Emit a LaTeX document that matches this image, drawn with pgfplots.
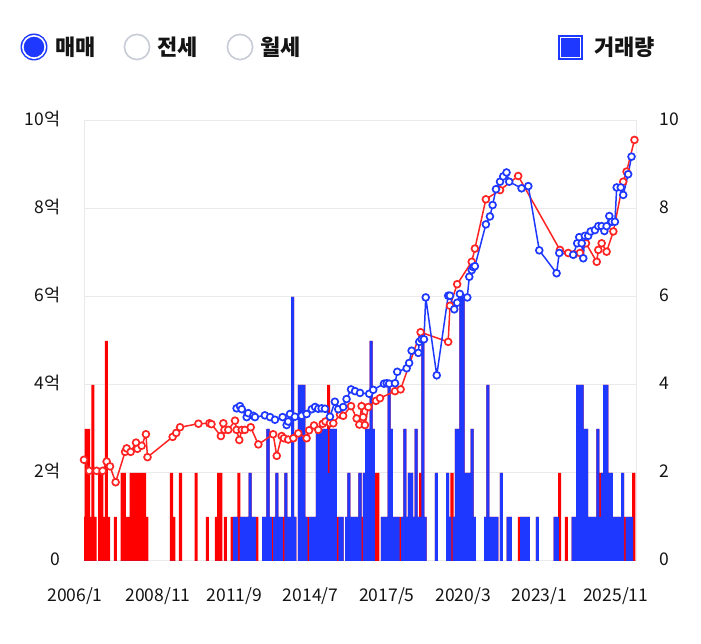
\documentclass[border=0pt]{standalone}
\usepackage{fontspec}
\usepackage{pgfplots}
\usepackage{pgfplotstable}
\pgfplotsset{compat=1.18}
\setmainfont{Noto Sans CJK KR}
\definecolor{bblue}{RGB}{30,56,255}
\definecolor{rred}{RGB}{255,0,0}
\definecolor{lred}{RGB}{255,36,36}
\definecolor{gridc}{RGB}{234,234,234}
\definecolor{radio}{RGB}{200,204,214}
\definecolor{txt}{RGB}{20,20,20}

% month index k (1 = first month shown), blue volume b, red volume r
\pgfplotstableread{
k b r
1 0 1
2 0 3
3 0 3
4 0 1
5 0 4
6 0 1
8 0 2
9 0 2
10 0 1
11 0 5
12 0 1
15 0 1
18 0 2
19 0 2
20 0 1
21 0 1
22 0 2
23 0 2
24 0 2
25 0 2
26 0 2
27 0 2
28 0 2
29 0 1
40 0 2
41 0 1
44 0 2
51 0 2
56 0 1
60 0 1
61 0 2
62 0 2
64 0 1
67 0 1
68 1 0
69 1 0
70 0 2
71 1 0
72 1 0
73 1 0
74 1 0
75 2 0
76 1 0
77 1 0
78 0 1
81 1 0
82 1 0
83 3 0
84 1 0
85 0 1
86 1 0
87 2 0
88 1 0
89 1 0
90 0 1
91 2 0
92 1 0
93 1 0
94 6 0
95 1 0
97 4 0
98 4 0
99 4 0
100 1 0
101 0 1
102 1 0
103 1 0
104 1 0
105 3 0
106 3 0
107 3 0
108 3 0
109 3 0
110 2 2
111 3 0
112 3 0
113 3 0
114 0 1
115 1 0
116 1 0
118 1 0
119 2 0
120 1 0
121 1 0
122 1 0
123 1 0
124 2 0
125 0 1
126 2 0
127 3 0
128 3 0
129 5 0
130 3 0
131 0 2
132 0 2
134 1 0
135 1 0
136 1 0
137 4 0
138 3 0
139 1 0
140 1 0
141 1 0
142 0 1
143 1 0
144 3 0
145 1 0
146 2 0
147 2 0
148 1 0
149 3 0
150 1 0
151 1 1
152 5 0
153 1 0
158 2 0
163 2 0
164 1 0
165 0 2
166 1 0
167 3 0
168 3 0
169 6 0
170 6 0
171 2 0
172 2 0
173 2 0
174 3 0
175 1 0
180 1 0
181 4 0
182 1 0
183 1 0
184 1 0
185 1 0
187 2 0
190 1 0
191 1 0
195 0 1
196 1 0
197 1 0
198 1 0
199 1 0
203 1 0
211 1 0
212 1 0
213 0 2
216 0 1
219 1 0
220 1 0
221 4 0
222 4 0
223 4 0
224 3 0
225 3 0
226 1 0
227 1 0
228 1 0
229 1 0
230 3 0
231 1 1
232 2 0
233 4 0
234 4 0
235 2 0
236 2 0
237 1 0
238 1 0
239 1 0
240 1 0
241 2 0
242 0 1
243 1 0
244 1 0
245 1 0
246 0 2
}\vol

\begin{document}
\begin{tikzpicture}[x=1pt,y=1pt]
\useasboundingbox (0,0) rectangle (701,644);

\begin{axis}[
  at={(84pt,83pt)}, anchor=south west,
  scale only axis, width=552pt, height=440pt,
  xmin=1, xmax=247, ymin=0, ymax=10,
  axis line style={draw=gridc, line width=1pt},
  ymajorgrids, grid style={draw=gridc, line width=1pt},
  major tick length=0pt,
  ytick={0,2,4,6,8,10},
  yticklabels={0,2억,4억,6억,8억,10억},
  xtick={1,34,68,102,136,170,204,238},
  xticklabels={{2006/1\hspace*{18pt}},2008/11,2011/9,2014/7,2017/5,2020/3,2023/1,2025/11},
  every tick label/.append style={font=\fontsize{17.5}{20}\selectfont, text=txt},
  yticklabel style={anchor=east, xshift=-20pt, yshift=2pt},
  xticklabel style={anchor=north, yshift=-23pt},
]
\addplot[ybar, bar width=1.35, bar shift=0pt, fill=rred, draw=none]
  table[x=k, y expr=\thisrow{b}+\thisrow{r}] {\vol};
\addplot[ybar, bar width=1.35, bar shift=0pt, fill=bblue, draw=none]
  table[x=k, y=b] {\vol};

\addplot[color=lred, line width=1.5pt, mark=*, mark size=3.4pt,
  mark options={fill=white, line width=1.7pt, solid}] coordinates {
(1.0,2.30)(3.3,2.05)(6.6,2.05)(9.3,2.05)(11.1,2.26)(12.6,2.15)(15.1,1.79)(19.3,2.48)(20.0,2.56)(21.8,2.48)(24.2,2.69)(24.8,2.55)(26.7,2.62)(28.6,2.88)(29.3,2.36)(40.5,2.82)(42.1,2.91)(43.8,3.04)(52.0,3.12)(56.9,3.13)(57.8,3.11)(62.0,2.84)(63.1,3.13)(63.6,2.98)(65.3,2.98)(68.3,3.19)(69.0,2.98)(70.2,2.75)(71.3,2.98)(72.7,2.98)(75.3,3.04)(78.7,2.65)(85.3,2.88)(86.9,2.39)(89.1,2.84)(90.1,2.79)(92.0,2.76)(94.3,2.79)(96.5,2.90)(100.2,2.79)(101.3,2.97)(103.5,3.08)(105.4,2.98)(107.4,3.12)(108.6,3.17)(110.6,3.13)(112.1,3.13)(115.1,3.33)(116.5,3.30)(120.0,3.52)(122.5,3.24)(123.7,3.10)(124.7,3.52)(125.4,3.27)(126.2,3.09)(127.7,3.50)(131.1,3.64)(132.9,3.70)(139.6,3.86)(142.1,3.90)(151.0,5.20)(163.3,4.98)(164.1,5.80)(167.3,6.29)(173.8,6.80)(175.2,7.10)(180.1,8.22)(186.4,8.43)(194.5,8.75)(213.1,7.07)(216.8,7.00)(219.3,6.97)(222.0,7.00)(224.7,7.22)(229.5,6.80)(230.2,7.07)(231.7,7.22)(233.9,7.03)(236.9,7.49)(241.3,8.62)(242.8,8.85)(246.3,9.57)
};
\addplot[color=bblue, line width=1.5pt, mark=*, mark size=3.4pt,
  mark options={fill=white, line width=1.7pt, solid}] coordinates {
(69.0,3.47)(70.5,3.52)(71.3,3.45)(73.5,3.27)(74.2,3.36)(76.4,3.30)(77.2,3.27)(81.6,3.31)(83.9,3.27)(86.1,3.21)(89.5,3.27)(91.3,3.09)(92.0,3.17)(92.8,3.34)(95.0,3.28)(98.0,3.30)(100.2,3.34)(102.5,3.45)(104.0,3.50)(105.4,3.46)(106.9,3.47)(108.4,3.46)(110.6,3.28)(112.8,3.62)(114.3,3.45)(116.5,3.50)(118.0,3.68)(120.0,3.90)(121.8,3.86)(124.0,3.82)(128.1,3.80)(129.9,3.89)(134.7,4.03)(135.9,4.04)(137.0,4.03)(139.6,4.04)(140.6,4.30)(144.8,4.38)(145.9,4.50)(147.0,4.78)(150.0,4.73)(150.4,4.98)(151.5,5.04)(152.5,5.04)(153.3,5.99)(158.2,4.22)(163.3,6.03)(164.1,6.03)(166.0,5.72)(167.3,5.87)(168.5,6.07)(171.8,5.99)(172.7,6.46)(173.8,6.61)(174.5,6.68)(175.2,6.70)(180.1,7.65)(181.9,7.83)(183.1,8.09)(184.6,8.45)(186.4,8.62)(187.8,8.74)(189.3,8.83)(190.5,8.62)(196.0,8.47)(199.0,8.52)(203.9,7.06)(211.6,6.54)(212.8,7.00)(219.0,6.96)(220.8,7.22)(221.7,7.36)(222.8,7.22)(223.5,6.88)(224.2,7.39)(225.7,7.39)(226.8,7.49)(228.7,7.52)(230.2,7.61)(231.7,7.61)(232.9,7.50)(233.9,7.61)(235.1,7.84)(236.2,7.71)(237.6,7.71)(238.4,8.49)(240.2,8.49)(241.3,8.32)(243.5,8.79)(245.0,9.19)
};
\end{axis}

\begin{axis}[
  at={(84pt,83pt)}, anchor=south west,
  scale only axis, width=552pt, height=440pt,
  xmin=1, xmax=247, ymin=0, ymax=10,
  axis x line=none, axis y line*=right,
  axis line style={draw=none},
  major tick length=0pt,
  ytick={0,2,4,6,8,10},
  yticklabels={0,2,4,6,8,10},
  every tick label/.append style={font=\fontsize{17.5}{20}\selectfont, text=txt},
  yticklabel style={anchor=west, xshift=20pt, yshift=2pt},
]
\addplot[draw=none] coordinates {(1,0)(247,10)};
\end{axis}

% legend (toggle buttons)
\fill[bblue] (34,597) circle (13.5);
\draw[white, line width=1.6pt] (34,597) circle (11.2);
\node[anchor=west, font=\fontsize{22}{26}\selectfont\bfseries, text=txt, inner sep=0pt] at (55,597) {매매};
\draw[radio, line width=1.6pt, fill=white] (137,597) circle (12.6);
\node[anchor=west, font=\fontsize{22}{26}\selectfont\bfseries, text=txt, inner sep=0pt] at (157,597) {전세};
\draw[radio, line width=1.6pt, fill=white] (240,597) circle (12.6);
\node[anchor=west, font=\fontsize{22}{26}\selectfont\bfseries, text=txt, inner sep=0pt] at (260,597) {월세};
\fill[bblue] (558,584) rectangle (583,609);
\draw[white, line width=1.4pt] (560.3,586.3) rectangle (580.7,606.7);
\node[anchor=west, font=\fontsize{22}{26}\selectfont\bfseries, text=txt, inner sep=0pt] at (594,597) {거래량};
\end{tikzpicture}
\end{document}
